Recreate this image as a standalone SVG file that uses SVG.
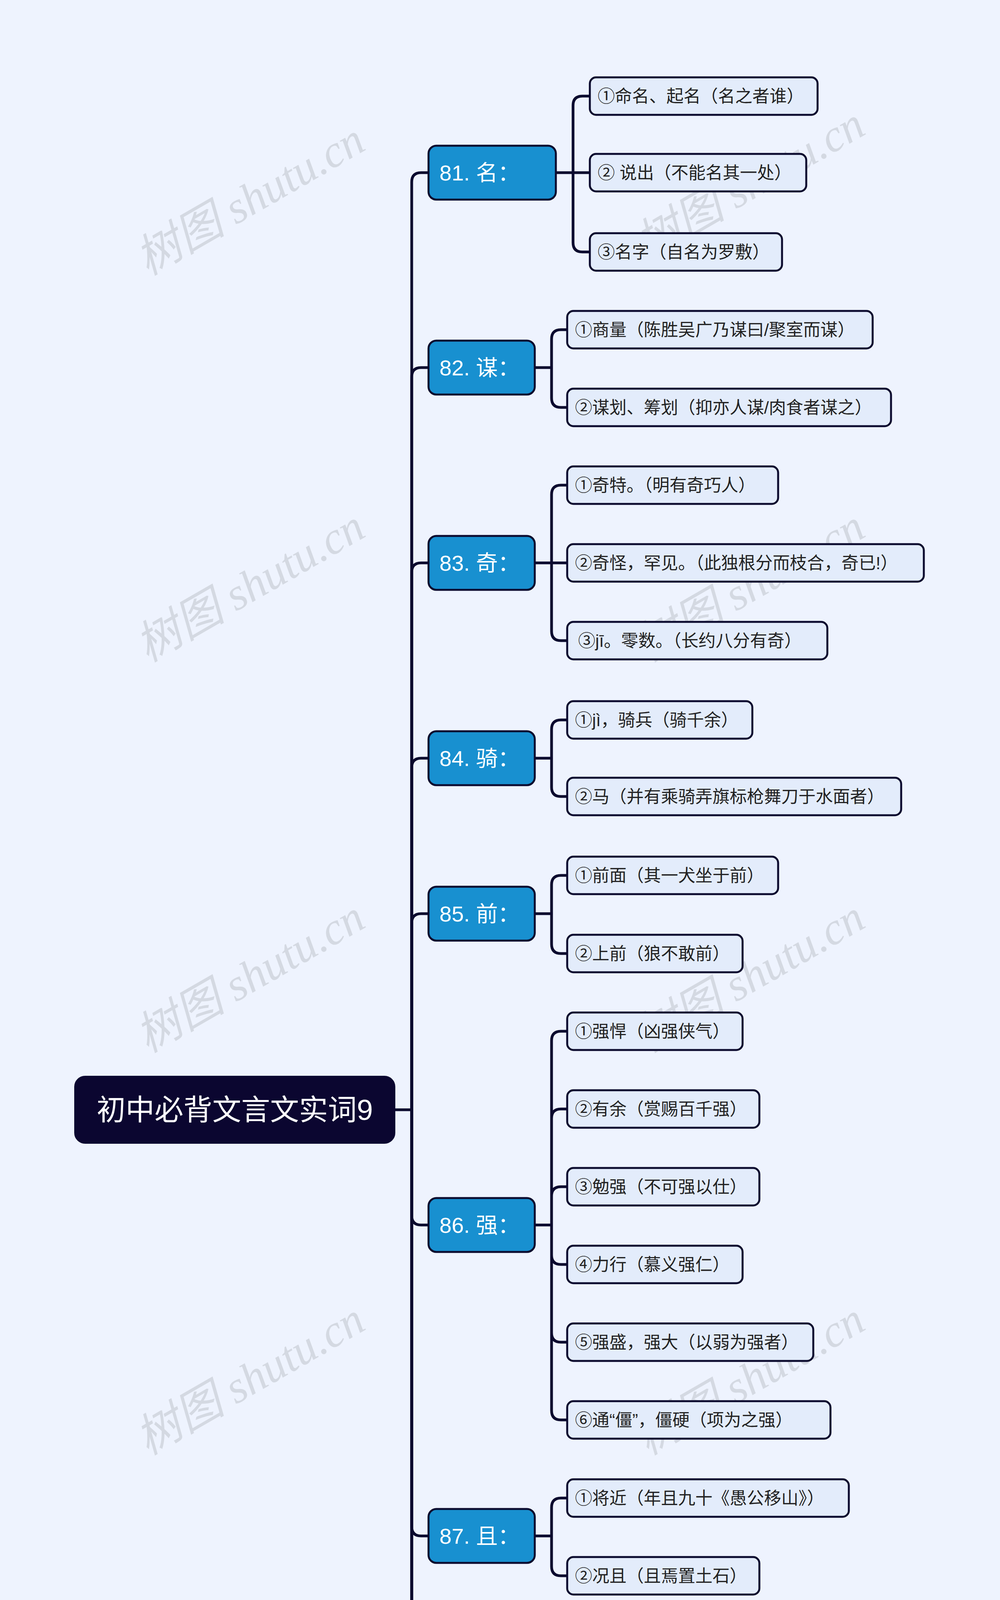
<svg xmlns="http://www.w3.org/2000/svg" width="2560" height="5679" viewBox="0 0 2560 5679">
<style>
.bg{fill:#eef3fe}
.ln{fill:none;stroke:#0b0a2e;stroke-width:7;stroke-linecap:round}
.root rect{fill:#0b0630;stroke:#0b0630;stroke-width:4}
.root text{fill:#fff;font-size:74px}
.tp rect{fill:#1890d0;stroke:#0b0a2e;stroke-width:5}
.tp text{fill:#fff;font-size:56px}
.lf rect{fill:#e3ecfb;stroke:#0b0a2e;stroke-width:5}
.lf text{fill:#222;font-size:44px}
text{font-family:"Liberation Sans","Noto Sans CJK SC",sans-serif;dominant-baseline:central}
.wm{fill:#c4c8d0;opacity:.6;font-size:116px;font-family:"Liberation Serif","Noto Sans CJK SC",serif;font-style:italic}
</style>
<rect class="bg" width="2560" height="5679"/>
<g id="watermarks">
<text class="wm" transform="translate(640,510) rotate(-30)" text-anchor="middle">树图 shutu.cn</text>
<text class="wm" transform="translate(1920,470) rotate(-30)" text-anchor="middle">树图 shutu.cn</text>
<text class="wm" transform="translate(640,1500) rotate(-30)" text-anchor="middle">树图 shutu.cn</text>
<text class="wm" transform="translate(1920,1500) rotate(-30)" text-anchor="middle">树图 shutu.cn</text>
<text class="wm" transform="translate(640,2500) rotate(-30)" text-anchor="middle">树图 shutu.cn</text>
<text class="wm" transform="translate(1920,2500) rotate(-30)" text-anchor="middle">树图 shutu.cn</text>
<text class="wm" transform="translate(640,3530) rotate(-30)" text-anchor="middle">树图 shutu.cn</text>
<text class="wm" transform="translate(1920,3530) rotate(-30)" text-anchor="middle">树图 shutu.cn</text>
<text class="wm" transform="translate(640,4510) rotate(-30)" text-anchor="middle">树图 shutu.cn</text>
<text class="wm" transform="translate(1920,4510) rotate(-30)" text-anchor="middle">树图 shutu.cn</text>
<text class="wm" transform="translate(640,5500) rotate(-30)" text-anchor="middle">树图 shutu.cn</text>
<text class="wm" transform="translate(1920,5500) rotate(-30)" text-anchor="middle">树图 shutu.cn</text>
</g>
<g id="connectors">
<path class="ln" d="M1010 2841H1054"/>
<path class="ln" d="M1054 2841V466Q1054 442 1078 442H1097"/>
<path class="ln" d="M1054 2841V965Q1054 941 1078 941H1097"/>
<path class="ln" d="M1054 2841V1465Q1054 1441 1078 1441H1097"/>
<path class="ln" d="M1054 2841V1965Q1054 1941 1078 1941H1097"/>
<path class="ln" d="M1054 2841V2363Q1054 2339 1078 2339H1097"/>
<path class="ln" d="M1054 2841V3112Q1054 3136 1078 3136H1097"/>
<path class="ln" d="M1054 2841V3908Q1054 3932 1078 3932H1097"/>
<path class="ln" d="M1054 2841V4307Q1054 4331 1078 4331H1097"/>
<path class="ln" d="M1054 2841V4705Q1054 4729 1078 4729H1097"/>
<path class="ln" d="M1054 2841V5205Q1054 5229 1078 5229H1097"/>
<path class="ln" d="M1423 442H1510M1467 442V270Q1467 246 1491 246H1510M1467 442V621Q1467 645 1491 645H1510"/>
<path class="ln" d="M1369 941H1412M1412 941V868Q1412 844 1436 844H1452M1412 941V1019Q1412 1043 1436 1043H1452"/>
<path class="ln" d="M1369 1441H1452M1412 1441V1266Q1412 1242 1436 1242H1452M1412 1441V1616Q1412 1640 1436 1640H1452"/>
<path class="ln" d="M1369 1941H1412M1412 1941V1867Q1412 1843 1436 1843H1452M1412 1941V2015Q1412 2039 1436 2039H1452"/>
<path class="ln" d="M1369 2339H1412M1412 2339V2265Q1412 2241 1436 2241H1452M1412 2339V2417Q1412 2441 1436 2441H1452"/>
<path class="ln" d="M1369 3136H1412M1412 3136V2664Q1412 2640 1436 2640H1452M1412 3136V2863Q1412 2839 1436 2839H1452M1412 3136V3062Q1412 3038 1436 3038H1452M1412 3136V3213Q1412 3237 1436 3237H1452M1412 3136V3412Q1412 3436 1436 3436H1452M1412 3136V3611Q1412 3635 1436 3635H1452"/>
<path class="ln" d="M1369 3932H1412M1412 3932V3859Q1412 3835 1436 3835H1452M1412 3932V4010Q1412 4034 1436 4034H1452"/>
<path class="ln" d="M1369 4331H1412M1412 4331V4257Q1412 4233 1436 4233H1452M1412 4331V4408Q1412 4432 1436 4432H1452"/>
<path class="ln" d="M1369 4729H1412M1412 4729V4655Q1412 4631 1436 4631H1452M1412 4729V4806Q1412 4830 1436 4830H1452"/>
<path class="ln" d="M1369 5229H1452M1412 5229V5054Q1412 5030 1436 5030H1452M1412 5229V5408Q1412 5432 1436 5432H1452"/>
</g>
<g id="root" class="root"><rect x="192" y="2756" width="818" height="170" rx="26"/><text x="601" y="2841" text-anchor="middle">初中必背文言文实词9</text></g>
<g id="t81" class="tp"><rect x="1097" y="373" width="326" height="138" rx="20"/><text x="1125" y="442">81. 名：</text></g>
<g id="t82" class="tp"><rect x="1097" y="872" width="272" height="138" rx="20"/><text x="1125" y="941">82. 谋：</text></g>
<g id="t83" class="tp"><rect x="1097" y="1372" width="272" height="138" rx="20"/><text x="1125" y="1441">83. 奇：</text></g>
<g id="t84" class="tp"><rect x="1097" y="1872" width="272" height="138" rx="20"/><text x="1125" y="1941">84. 骑：</text></g>
<g id="t85" class="tp"><rect x="1097" y="2270" width="272" height="138" rx="20"/><text x="1125" y="2339">85. 前：</text></g>
<g id="t86" class="tp"><rect x="1097" y="3067" width="272" height="138" rx="20"/><text x="1125" y="3136">86. 强：</text></g>
<g id="t87" class="tp"><rect x="1097" y="3863" width="272" height="138" rx="20"/><text x="1125" y="3932">87. 且：</text></g>
<g id="t88" class="tp"><rect x="1097" y="4262" width="272" height="138" rx="20"/><text x="1125" y="4331">88. 清：</text></g>
<g id="t89" class="tp"><rect x="1097" y="4660" width="272" height="138" rx="20"/><text x="1125" y="4729">89. 情：</text></g>
<g id="t90" class="tp"><rect x="1097" y="5160" width="272" height="138" rx="20"/><text x="1125" y="5229">90. 请：</text></g>
<g id="l81a" class="lf"><rect x="1510" y="198" width="583" height="96" rx="16"/><text x="1530" y="246">①命名、起名（名之者谁）</text></g>
<g id="l81b" class="lf"><rect x="1510" y="394" width="554" height="96" rx="16"/><text x="1530" y="442">② 说出（不能名其一处）</text></g>
<g id="l81c" class="lf"><rect x="1510" y="597" width="492" height="96" rx="16"/><text x="1530" y="645">③名字（自名为罗敷）</text></g>
<g id="l82a" class="lf"><rect x="1452" y="796" width="782" height="96" rx="16"/><text x="1472" y="844">①商量（陈胜吴广乃谋曰/聚室而谋）</text></g>
<g id="l82b" class="lf"><rect x="1452" y="995" width="829" height="96" rx="16"/><text x="1472" y="1043">②谋划、筹划（抑亦人谋/肉食者谋之）</text></g>
<g id="l83a" class="lf"><rect x="1452" y="1194" width="540" height="96" rx="16"/><text x="1472" y="1242">①奇特。（明有奇巧人）</text></g>
<g id="l83b" class="lf"><rect x="1452" y="1393" width="913" height="96" rx="16"/><text x="1472" y="1441">②奇怪，罕见。（此独根分而枝合，奇已!）</text></g>
<g id="l83c" class="lf"><rect x="1452" y="1592" width="666" height="96" rx="16"/><text x="1480" y="1640">③jī。零数。（长约八分有奇）</text></g>
<g id="l84a" class="lf"><rect x="1452" y="1795" width="474" height="96" rx="16"/><text x="1472" y="1843">①jì，骑兵（骑千余）</text></g>
<g id="l84b" class="lf"><rect x="1452" y="1991" width="855" height="96" rx="16"/><text x="1472" y="2039">②马（并有乘骑弄旗标枪舞刀于水面者）</text></g>
<g id="l85a" class="lf"><rect x="1452" y="2193" width="540" height="96" rx="16"/><text x="1472" y="2241">①前面（其一犬坐于前）</text></g>
<g id="l85b" class="lf"><rect x="1452" y="2393" width="449" height="96" rx="16"/><text x="1472" y="2441">②上前（狼不敢前）</text></g>
<g id="l86a" class="lf"><rect x="1452" y="2592" width="449" height="96" rx="16"/><text x="1472" y="2640">①强悍（凶强侠气）</text></g>
<g id="l86b" class="lf"><rect x="1452" y="2791" width="492" height="96" rx="16"/><text x="1472" y="2839">②有余（赏赐百千强）</text></g>
<g id="l86c" class="lf"><rect x="1452" y="2990" width="492" height="96" rx="16"/><text x="1472" y="3038">③勉强（不可强以仕）</text></g>
<g id="l86d" class="lf"><rect x="1452" y="3189" width="449" height="96" rx="16"/><text x="1472" y="3237">④力行（慕义强仁）</text></g>
<g id="l86e" class="lf"><rect x="1452" y="3388" width="630" height="96" rx="16"/><text x="1472" y="3436">⑤强盛，强大（以弱为强者）</text></g>
<g id="l86f" class="lf"><rect x="1452" y="3587" width="674" height="96" rx="16"/><text x="1472" y="3635">⑥通“僵”，僵硬（项为之强）</text></g>
<g id="l87a" class="lf"><rect x="1452" y="3787" width="721" height="96" rx="16"/><text x="1472" y="3835">①将近（年且九十《愚公移山》）</text></g>
<g id="l87b" class="lf"><rect x="1452" y="3986" width="492" height="96" rx="16"/><text x="1472" y="4034">②况且（且焉置土石）</text></g>
<g id="l88a" class="lf"><rect x="1452" y="4185" width="648" height="96" rx="16"/><text x="1472" y="4233">①清澈（水尤清冽/回清倒影）</text></g>
<g id="l88b" class="lf"><rect x="1452" y="4384" width="674" height="96" rx="16"/><text x="1472" y="4432">②凄清、冷清清（以其境过清）</text></g>
<g id="l89a" class="lf"><rect x="1452" y="4583" width="402" height="96" rx="16"/><text x="1472" y="4631">①实情（必以情）</text></g>
<g id="l89b" class="lf"><rect x="1452" y="4782" width="764" height="96" rx="16"/><text x="1472" y="4830">②友情、交情（于是与亮情好日密）</text></g>
<g id="l90a" class="lf"><rect x="1452" y="4982" width="630" height="96" rx="16"/><text x="1472" y="5030">①请允许，敬辞（请献十金）</text></g>
<g id="l90b" class="lf"><rect x="1452" y="5181" width="460" height="96" rx="16"/><text x="1480" y="5229">②请求（曹刿请见）</text></g>
<g id="l90c" class="lf"><rect x="1452" y="5384" width="674" height="96" rx="16"/><text x="1472" y="5432">③请教（俟其欣悦，则又请焉）</text></g>
</svg>
